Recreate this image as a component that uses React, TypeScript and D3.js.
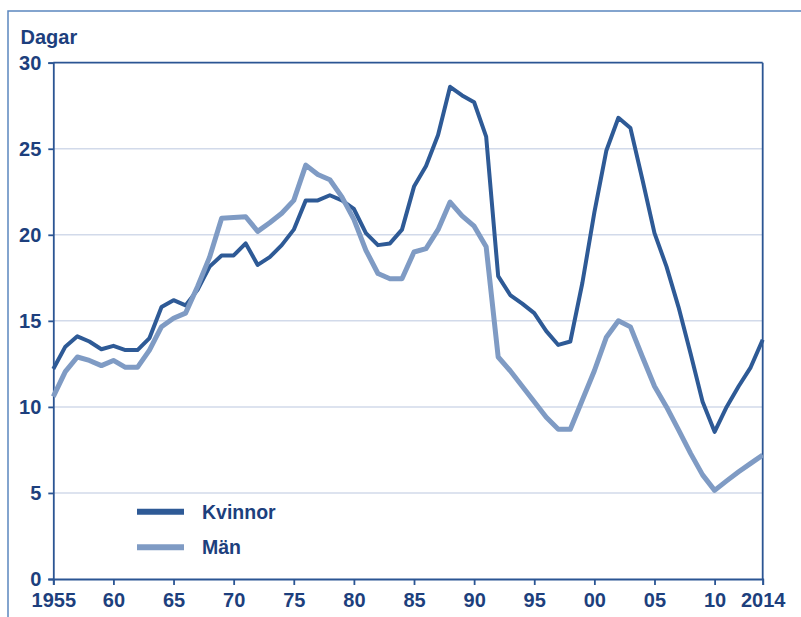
import { useEffect, useRef } from 'react';
import * as d3 from 'd3';

// Sjukfrånvaro – dagar per år, 1955–2014
const years = d3.range(1955, 2015);

const kvinnor = [
  12.2, 13.5, 14.1, 13.8, 13.35, 13.55, 13.3, 13.3, 14.0, 15.8,
  16.2, 15.9, 16.8, 18.15, 18.8, 18.8, 19.5, 18.25, 18.7, 19.4,
  20.3, 22.0, 22.0, 22.3, 22.0, 21.5, 20.1, 19.4, 19.5, 20.3,
  22.8, 24.0, 25.8, 28.6, 28.1, 27.7, 25.7, 17.6, 16.5, 16.0,
  15.45, 14.4, 13.6, 13.8, 17.2, 21.3, 24.9, 26.8, 26.2, 23.2,
  20.1, 18.15, 15.8, 13.1, 10.3, 8.55, 10.0, 11.2, 12.3, 13.9,
];

const man = [
  10.6, 12.05, 12.9, 12.7, 12.4, 12.7, 12.3, 12.3, 13.3, 14.66,
  15.15, 15.45, 17.0, 18.7, 20.96, 21.0, 21.05, 20.2, 20.7, 21.25,
  22.0, 24.05, 23.5, 23.2, 22.2, 20.9, 19.1, 17.75, 17.45, 17.45,
  19.0, 19.2, 20.3, 21.9, 21.1, 20.5, 19.3, 12.9, 12.1, 11.2,
  10.3, 9.4, 8.7, 8.7, 10.4, 12.1, 14.05, 15.0, 14.65, 12.9,
  11.2, 10.0, 8.66, 7.3, 6.05, 5.15, 5.7, 6.23, 6.72, 7.2,
];

const xTicks = [1955, 1960, 1965, 1970, 1975, 1980, 1985, 1990, 1995, 2000, 2005, 2010, 2014];
const xTickLabels = ['1955', '60', '65', '70', '75', '80', '85', '90', '95', '00', '05', '10', '2014'];
const yTicks = [0, 5, 10, 15, 20, 25, 30];

const series = [
  { name: 'Kvinnor', values: kvinnor, color: '#2e5a96', width: 4 },
  { name: 'Män', values: man, color: '#7f9bc4', width: 5 },
];

const W = 801;
const H = 617;
const margin = { top: 62.7, right: 38.3, bottom: 38, left: 53.3 };
const textColor = '#1d3f7d';
const axisColor = '#2b5593';
const font = '"Liberation Sans", Arial, sans-serif';

function Chart() {
  const svgRef = useRef<SVGSVGElement>(null);

  useEffect(() => {
    if (!svgRef.current) return;
    const svg = d3.select(svgRef.current);
    svg.selectAll('*').remove();

    const innerW = W - margin.left - margin.right;
    const innerH = H - margin.top - margin.bottom;

    const x = d3.scaleLinear().domain([1955, 2014]).range([0, innerW]);
    const y = d3.scaleLinear().domain([0, 30]).range([innerH, 0]);

    // yttre ram
    svg.append('path')
      .attr('d', `M8,${H} V11 H${W}`)
      .attr('fill', 'none')
      .attr('stroke', '#5b86bf')
      .attr('stroke-width', 1.5);

    svg.append('text')
      .attr('x', 20.5)
      .attr('y', 43.5)
      .style('font-family', font)
      .style('font-size', '20px')
      .style('font-weight', 'bold')
      .style('fill', textColor)
      .text('Dagar');

    const g = svg.append('g')
      .attr('transform', `translate(${margin.left},${margin.top})`);

    // stödlinjer
    g.append('g')
      .selectAll('line')
      .data(yTicks.filter(d => d > 0 && d < 30))
      .join('line')
      .attr('x1', 0)
      .attr('x2', innerW)
      .attr('y1', d => y(d))
      .attr('y2', d => y(d))
      .attr('stroke', '#d2daea')
      .attr('stroke-width', 1.5);

    // ram runt diagramytan
    g.append('line')
      .attr('x1', 0).attr('x2', innerW)
      .attr('y1', 0).attr('y2', 0)
      .attr('stroke', axisColor).attr('stroke-width', 1.8);
    g.append('line')
      .attr('x1', innerW).attr('x2', innerW)
      .attr('y1', 0).attr('y2', innerH)
      .attr('stroke', axisColor).attr('stroke-width', 1.8);

    const yAxis = d3.axisLeft(y)
      .tickValues(yTicks)
      .tickSize(5)
      .tickPadding(7)
      .tickFormat(d => `${d}`);

    const xAxis = d3.axisBottom(x)
      .tickValues(xTicks)
      .tickSize(6)
      .tickPadding(8)
      .tickFormat((d, i) => xTickLabels[i]);

    const styleAxis = (sel: d3.Selection<SVGGElement, unknown, null, undefined>) => {
      sel.select('.domain').attr('stroke', axisColor).attr('stroke-width', 1.8);
      sel.selectAll('.tick line').attr('stroke', axisColor).attr('stroke-width', 1.8);
      sel.selectAll('.tick text')
        .style('font-family', font)
        .style('font-size', '20px')
        .style('font-weight', 'bold')
        .style('fill', textColor);
    };

    g.append('g').call(yAxis).call(styleAxis);
    g.append('g')
      .attr('transform', `translate(0,${innerH})`)
      .call(xAxis)
      .call(styleAxis);

    // linjer
    series.forEach(s => {
      const line = d3.line<number>()
        .x((_, i) => x(years[i]))
        .y(d => y(d));
      g.append('path')
        .datum(s.values)
        .attr('fill', 'none')
        .attr('stroke', s.color)
        .attr('stroke-width', s.width)
        .attr('stroke-linejoin', 'round')
        .attr('d', line);
    });

    // förklaring
    const legend = svg.append('g');
    series.forEach((s, i) => {
      const row = legend.append('g')
        .attr('transform', `translate(137,${511.7 + i * 35.6})`);
      row.append('line')
        .attr('x1', 0).attr('x2', 47)
        .attr('stroke', s.color)
        .attr('stroke-width', 6);
      row.append('text')
        .attr('x', 65)
        .attr('y', 7)
        .style('font-family', font)
        .style('font-size', '19.5px')
        .style('font-weight', 'bold')
        .style('fill', textColor)
        .text(s.name);
    });
  }, []);

  return <svg ref={svgRef} width={W} height={H} style={{ display: 'block', background: '#fff' }} />;
}

export default function App() {
  return (
    <div style={{ position: 'absolute', left: 0, top: 0 }}>
      <Chart />
    </div>
  );
}
